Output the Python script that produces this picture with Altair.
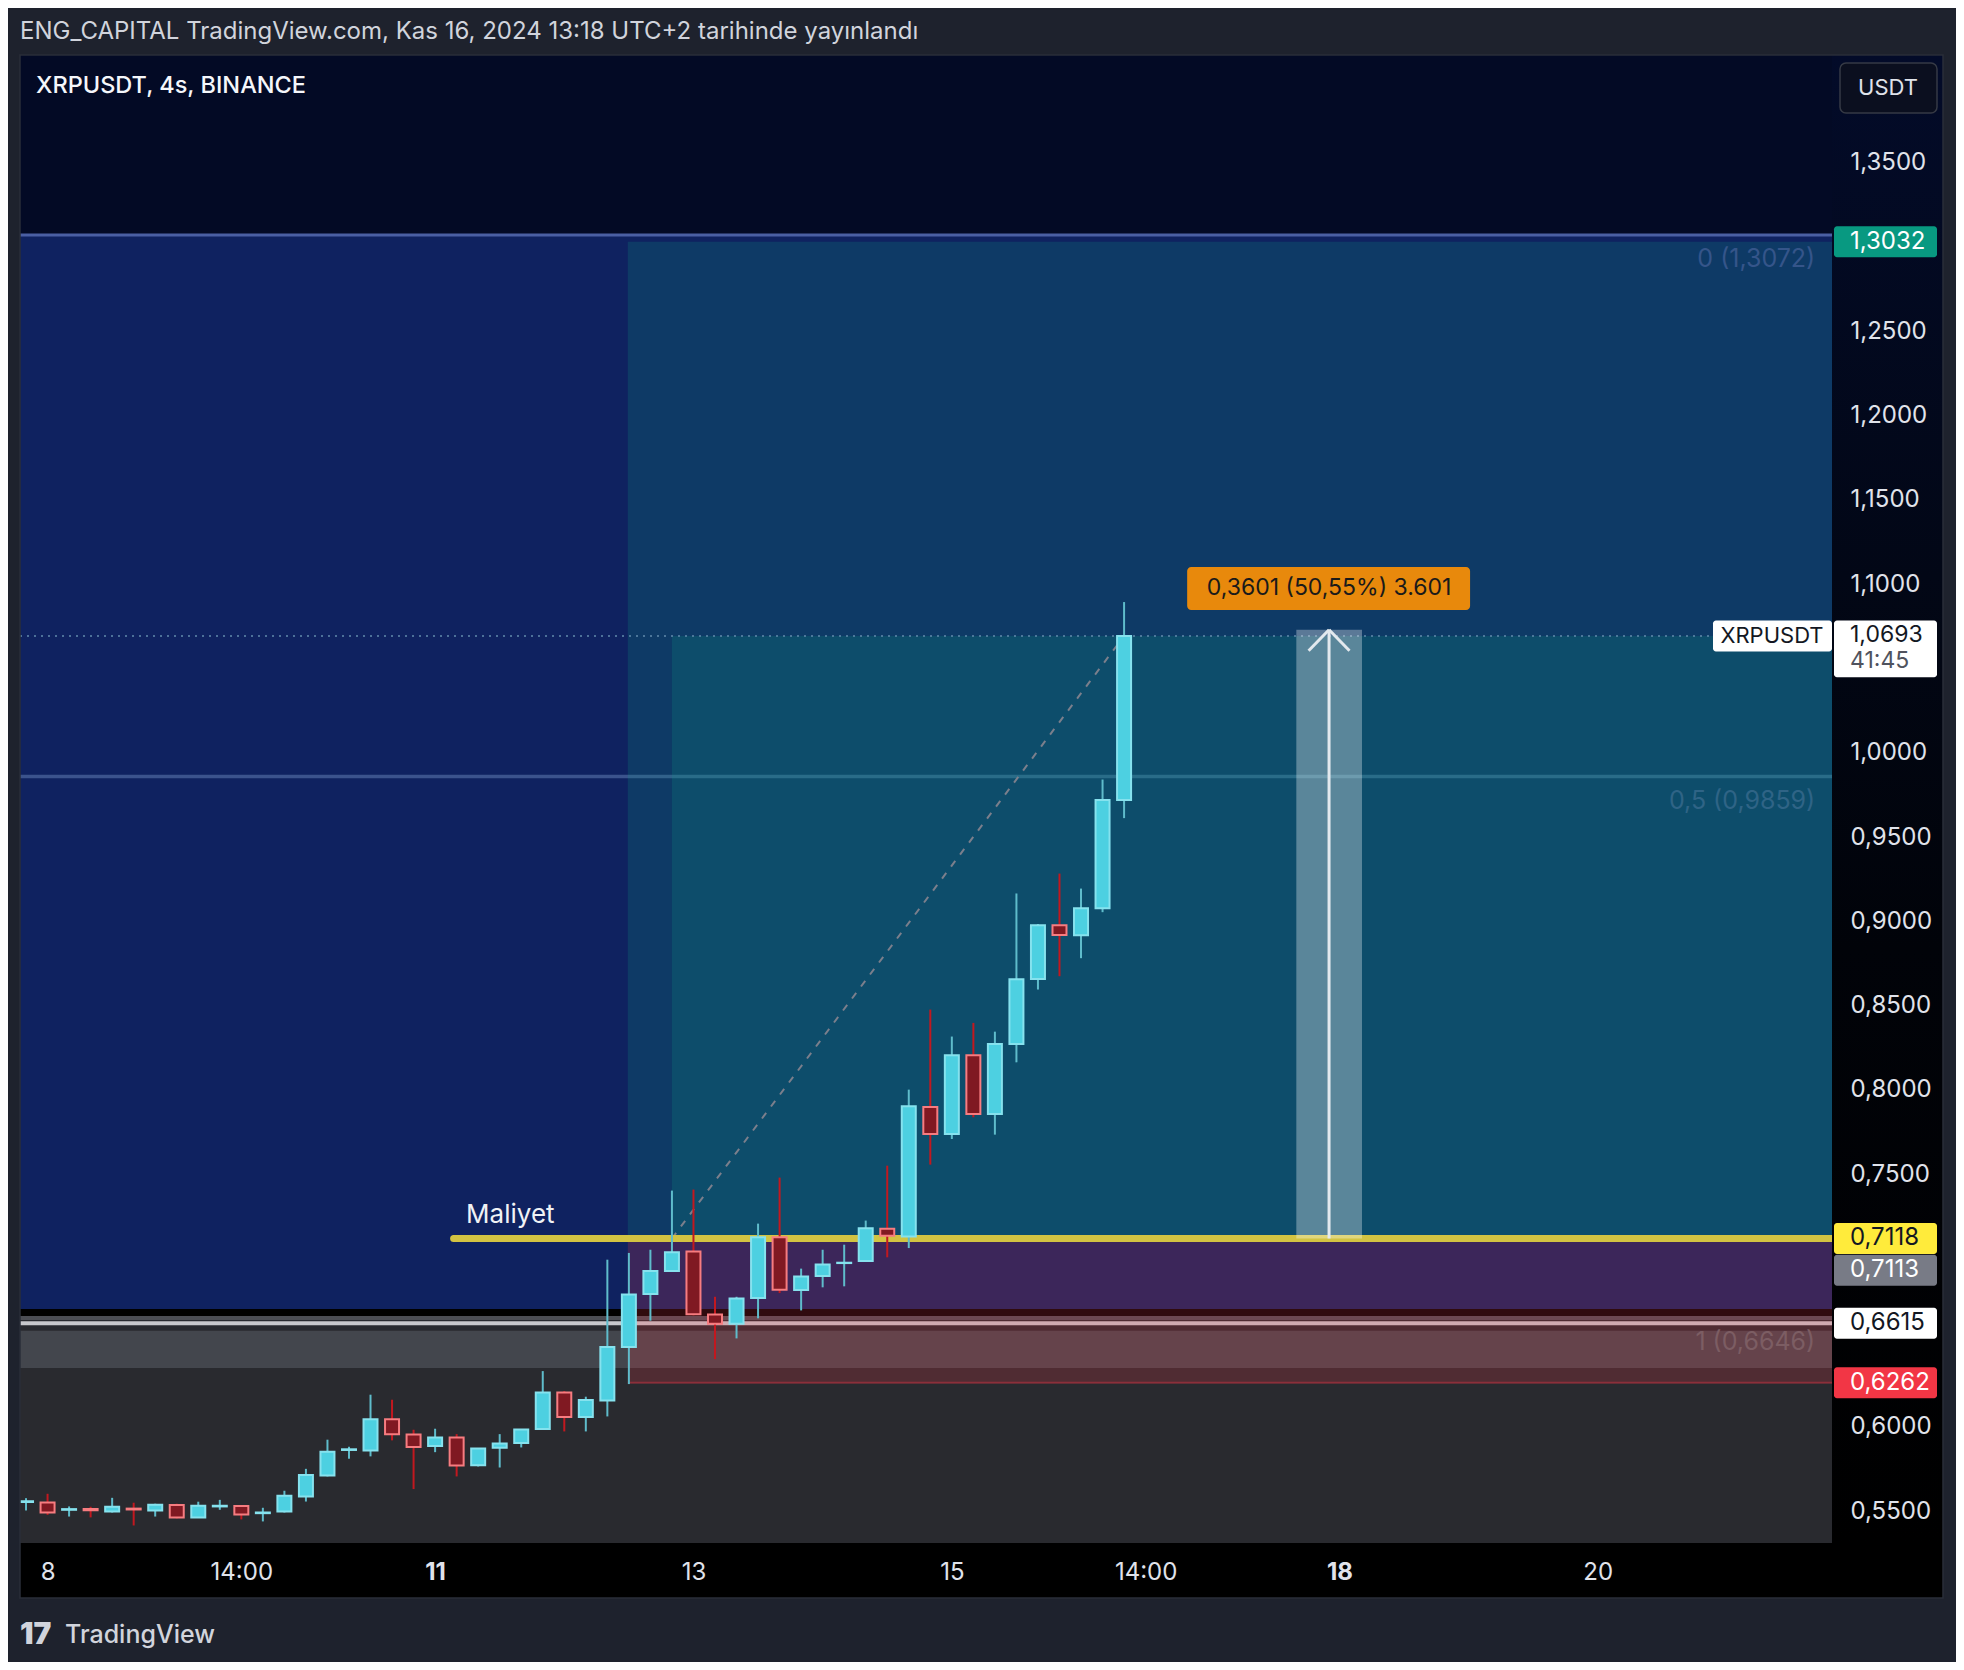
import altair as alt
import pandas as pd

# ---------------- data ----------------
bar_index = list(range(52))
opens = [0.5555, 0.5552, 0.5508, 0.5512, 0.5498, 0.5515, 0.5504, 0.5536, 0.5463, 0.5528,
         0.5530, 0.5488, 0.5498, 0.5587, 0.5712, 0.5863, 0.5860, 0.6046, 0.5955, 0.5886,
         0.5937, 0.5773, 0.5876, 0.5904, 0.5987, 0.6204, 0.6058, 0.6157, 0.6474, 0.6788,
         0.6925, 0.7041, 0.6667, 0.6612, 0.6764, 0.7125, 0.6812, 0.6895, 0.6972, 0.6984,
         0.7176, 0.7130, 0.7898, 0.7738, 0.8205, 0.7857, 0.8272, 0.8658, 0.8977, 0.8917,
         0.9078, 0.9719]
highs = [0.5577, 0.5603, 0.5528, 0.5526, 0.5579, 0.5550, 0.5544, 0.5544, 0.5556, 0.5567,
         0.5530, 0.5520, 0.5621, 0.5751, 0.5924, 0.5882, 0.6191, 0.6161, 0.5983, 0.5989,
         0.5957, 0.5873, 0.5957, 0.5985, 0.6331, 0.6212, 0.6179, 0.6992, 0.7032, 0.7051,
         0.7402, 0.7408, 0.6772, 0.6772, 0.7206, 0.7479, 0.6939, 0.7051, 0.7081, 0.7224,
         0.7550, 0.8001, 0.8476, 0.8316, 0.8397, 0.8345, 0.9165, 0.8984, 0.9283, 0.9194,
         0.9841, 1.0894]
lows = [0.5504, 0.5478, 0.5468, 0.5463, 0.5492, 0.5415, 0.5468, 0.5457, 0.5460, 0.5508,
        0.5451, 0.5439, 0.5492, 0.5557, 0.5706, 0.5811, 0.5825, 0.5920, 0.5631, 0.5850,
        0.5706, 0.5765, 0.5759, 0.5878, 0.5987, 0.5973, 0.5973, 0.6062, 0.6254, 0.6630,
        0.6925, 0.6662, 0.6402, 0.6525, 0.6644, 0.6794, 0.6691, 0.6828, 0.6834, 0.6984,
        0.7006, 0.7061, 0.7556, 0.7708, 0.7837, 0.7734, 0.8163, 0.8595, 0.8674, 0.8781,
        0.9054, 0.9612]
closes = [0.5559, 0.5492, 0.5512, 0.5506, 0.5526, 0.5510, 0.5538, 0.5463, 0.5532, 0.5532,
          0.5480, 0.5492, 0.5591, 0.5714, 0.5852, 0.5867, 0.6046, 0.5957, 0.5880, 0.5937,
          0.5771, 0.5872, 0.5902, 0.5985, 0.6204, 0.6058, 0.6159, 0.6474, 0.6786, 0.6925,
          0.7036, 0.6669, 0.6612, 0.6762, 0.7125, 0.6814, 0.6893, 0.6964, 0.6974, 0.7178,
          0.7134, 0.7902, 0.7738, 0.8205, 0.7857, 0.8272, 0.8656, 0.8977, 0.8919, 0.9078,
          0.9719, 1.0693]

x_tick_idx = [1, 10, 19, 31, 43, 52, 61, 73]
x_tick_labels = ["8", "14:00", "11", "13", "15", "14:00", "18", "20"]
x_bold_idx = [19, 61]
y_ticks = [0.55, 0.60, 0.75, 0.80, 0.85, 0.90, 0.95, 1.00, 1.10, 1.15, 1.20, 1.25, 1.35]

entry_price = 0.7118
target_price = 1.3032
stop_price = 0.6262
last_price = 1.0693
pos_start = 27.95
fill_start = 30
cost_start = 19.86
fib_prices = [1.3072, 0.9859, 0.6646]
fib_texts = ["0 (1,3072)", "0,5 (0,9859)", "1 (0,6646)"]
fib_text_colors = ["#35558a", "#2f6486", "#7c5d63"]
white_line_price = 0.6615

header_text = "ENG_CAPITAL TradingView.com, Kas 16, 2024 13:18 UTC+2 tarihinde yayınlandı"
symbol_text = "XRPUSDT, 4s, BINANCE"
measure_text = "0,3601 (50,55%) 3.601"

# ---------------- geometry ----------------
W, H = 1812, 1488
X_DOM = [-0.28, 83.88]
Y_DOM = [0.5311, 1.4140]
FONT = "Inter"
AX_COL = "#e0e3eb"

xs = alt.Scale(domain=X_DOM, nice=False, zero=False, padding=0)
ys = alt.Scale(domain=Y_DOM, nice=False, zero=False, padding=0)

lbl = "''"
for v, t in reversed(list(zip(x_tick_idx, x_tick_labels))):
    lbl = f"datum.value == {v} ? '{t}' : ({lbl})"
bold_test = " || ".join(f"datum.value == {v}" for v in x_bold_idx)

x_axis = alt.Axis(values=x_tick_idx, labelExpr=lbl, title=None, grid=False, ticks=False,
                  tickSize=0, domain=False, labelPadding=29, labelBaseline="middle",
                  labelFontSize=24, labelColor=AX_COL, labelFont=FONT,
                  labelFontWeight={"condition": {"test": bold_test, "value": 700}, "value": 400},
                  labelOverlap=False, labelFlush=False, zindex=1)
y_axis = alt.Axis(orient="right", values=y_ticks,
                  labelExpr="replace(format(datum.value, '.4f'), '.', ',')",
                  title=None, grid=False, ticks=False, tickSize=0, domain=False,
                  labelPadding=18, labelAlign="left", labelBaseline="middle",
                  labelFontSize=24, labelColor=AX_COL, labelFont=FONT,
                  labelOverlap=False, labelFlush=False, zindex=1)


def X(f):
    return alt.X(f, type="quantitative", scale=xs, axis=x_axis)


def Y(f):
    return alt.Y(f, type="quantitative", scale=ys, axis=y_axis)


one = pd.DataFrame({"k": [0]})
layers = []

# background bands (full width)
bands = pd.DataFrame({
    "x0": X_DOM[0], "x1": X_DOM[1],
    "y0": [fib_prices[0], 0.6700, Y_DOM[0], 0.6350],
    "y1": [Y_DOM[1], fib_prices[0], 0.6658, 0.6570],
    "fill": ["#030a25", "#0f2260", "#292a2f", "#43464d"],
})
layers.append(alt.Chart(bands).mark_rect(clip=True).encode(
    x=X("x0"), x2="x1", y=Y("y0"), y2="y1", fill=alt.Fill("fill:N", scale=None)))

# horizontal level lines
hlines = pd.DataFrame({
    "x0": X_DOM[0], "x1": X_DOM[1],
    "y": [fib_prices[0], fib_prices[1], fib_prices[2], white_line_price],
    "col": ["#4a5fa3", "#8fb0e0", "#4b4d54", "#c8c8cc"],
    "w": [3, 3.5, 4, 4],
    "op": [1, 0.35, 1, 1],
})
layers.append(alt.Chart(hlines).mark_rule(clip=True).encode(
    x=X("x0"), x2="x1", y=Y("y"), color=alt.Color("col:N", scale=None),
    strokeWidth=alt.StrokeWidth("w:Q", scale=None), opacity=alt.Opacity("op:Q", scale=None)))

# long position zones
zones = pd.DataFrame({
    "x0": [pos_start, fill_start, pos_start],
    "x1": X_DOM[1],
    "y0": [entry_price, entry_price, stop_price],
    "y1": [target_price, last_price, entry_price],
    "fill": ["#089981", "#089981", "#f23645"],
})
layers.append(alt.Chart(zones).mark_rect(clip=True, opacity=0.2).encode(
    x=X("x0"), x2="x1", y=Y("y0"), y2="y1", fill=alt.Fill("fill:N", scale=None)))
layers.append(alt.Chart(pd.DataFrame({"x0": [pos_start], "x1": [X_DOM[1]], "y": [stop_price]}))
              .mark_rule(clip=True, color="#f23645", opacity=0.4, strokeWidth=2)
              .encode(x=X("x0"), x2="x1", y=Y("y")))

# current price dotted line
layers.append(alt.Chart(pd.DataFrame({"x0": [X_DOM[0]], "x1": [X_DOM[1]], "y": [last_price]}))
              .mark_rule(clip=True, color="#5d86a8", opacity=0.8, strokeWidth=2, strokeDash=[2, 5])
              .encode(x=X("x0"), x2="x1", y=Y("y")))

# dashed connector entry -> current
layers.append(alt.Chart(pd.DataFrame({"x": [fill_start, 51], "y": [entry_price, last_price]}))
              .mark_line(clip=True, color="#7b7f8c", strokeWidth=2, strokeDash=[7, 8])
              .encode(x=X("x"), y=Y("y")))

# cost (Maliyet) line
layers.append(alt.Chart(pd.DataFrame({"x0": [cost_start], "x1": [X_DOM[1]], "y": [entry_price]}))
              .mark_rule(clip=True, color="#d2c342", strokeWidth=7, strokeCap="round")
              .encode(x=X("x0"), x2="x1", y=Y("y")))
layers.append(alt.Chart(pd.DataFrame({"x": [20.44], "y": [entry_price], "t": ["Maliyet"]}))
              .mark_text(align="left", baseline="middle", dy=-23, fontSize=26, font=FONT,
                         color="#f0f2f5")
              .encode(x=X("x"), y=Y("y"), text="t:N"))

# measuring arrow
arrow_x0, arrow_x1, arrow_xc = 59.0, 62.05, 60.52
arrow_top = 1.0730
layers.append(alt.Chart(pd.DataFrame({"x0": [arrow_x0], "x1": [arrow_x1], "y0": [entry_price], "y1": [arrow_top]}))
              .mark_rect(color="#ffffff", opacity=0.32)
              .encode(x=X("x0"), x2="x1", y=Y("y0"), y2="y1"))
layers.append(alt.Chart(pd.DataFrame({"x": [arrow_xc], "y0": [entry_price], "y1": [arrow_top]}))
              .mark_rule(color="#e3e9ee", strokeWidth=3)
              .encode(x=X("x"), y=Y("y0"), y2="y1"))
chev = pd.DataFrame({"x": [59.57, arrow_xc, 61.47, arrow_xc],
                     "y": [1.0605, arrow_top, 1.0605, arrow_top],
                     "seg": [0, 0, 1, 1]})
layers.append(alt.Chart(chev).mark_line(color="#e3e9ee", strokeWidth=3)
              .encode(x=X("x"), y=Y("y"), detail="seg:N"))

# candles
cdf = pd.DataFrame({"i": bar_index, "o": opens, "h": highs, "l": lows, "c": closes})
cdf["up"] = cdf["c"] >= cdf["o"]
cdf["b0"] = cdf[["o", "c"]].min(axis=1)
cdf["b1"] = cdf[["o", "c"]].max(axis=1)
cdf["fill"] = cdf["up"].map({True: "#4dd0e1", False: "#801922"})
cdf["edge"] = cdf["up"].map({True: "#86e2ee", False: "#f77c80"})
cdf["wick"] = cdf["up"].map({True: "#5fbccb", False: "#c2181f"})
layers.append(alt.Chart(cdf).mark_rule(clip=True, strokeWidth=2).encode(
    x=X("i"), y=Y("l"), y2="h", color=alt.Color("wick:N", scale=None)))
layers.append(alt.Chart(cdf).mark_bar(clip=True, size=14, strokeWidth=2).encode(
    x=X("i"), y=Y("b0"), y2="b1", fill=alt.Fill("fill:N", scale=None),
    stroke=alt.Stroke("edge:N", scale=None)))

# fib labels
fdf = pd.DataFrame({"x": 83.1, "y": fib_prices, "t": fib_texts, "col": fib_text_colors})
layers.append(alt.Chart(fdf).mark_text(align="right", baseline="middle", dy=24, fontSize=25, font=FONT)
              .encode(x=X("x"), y=Y("y"), text="t:N", color=alt.Color("col:N", scale=None)))

# orange measure label
layers.append(alt.Chart(pd.DataFrame({"x0": [53.93], "x1": [67.07], "y0": [1.0847], "y1": [1.1102]}))
              .mark_rect(color="#e8890c", cornerRadius=4)
              .encode(x=X("x0"), x2="x1", y=Y("y0"), y2="y1"))
layers.append(alt.Chart(pd.DataFrame({"x": [arrow_xc], "y": [1.0975], "t": [measure_text]}))
              .mark_text(align="center", baseline="middle", fontSize=23, font=FONT, color="#1a1a1a")
              .encode(x=X("x"), y=Y("y"), text="t:N"))

# symbol label at the right edge of the plot
layers.append(alt.Chart(pd.DataFrame({"y0": [1.0600], "y1": [1.0784]}))
              .mark_rect(color="#ffffff", cornerRadius=3)
              .encode(x=alt.value(1693), x2=alt.value(1812), y=Y("y0"), y2="y1"))
layers.append(alt.Chart(pd.DataFrame({"y": [1.0692], "t": ["XRPUSDT"]}))
              .mark_text(align="center", baseline="middle", fontSize=22, font=FONT, color="#131722")
              .encode(x=alt.value(1752), y=Y("y"), text="t:N"))

# header inside pane
layers.append(alt.Chart(pd.DataFrame({"t": [symbol_text]}))
              .mark_text(align="left", baseline="middle", fontSize=23.5, font=FONT,
                         fontWeight=500, color="#f5f7fb")
              .encode(x=alt.value(16), y=alt.value(31), text="t:N"))

# price-axis background gradient
grad = alt.Gradient(gradient="linear", x1=0, x2=0, y1=0, y2=1,
                    stops=[alt.GradientStop(color="#030b29", offset=0),
                           alt.GradientStop(color="#020716", offset=0.35),
                           alt.GradientStop(color="#010309", offset=0.6),
                           alt.GradientStop(color="#000000", offset=1)])
layers.append(alt.Chart(one).mark_rect(color=grad).encode(
    x=alt.value(W), x2=alt.value(1923), y=alt.value(0), y2=alt.value(H)))

# price-axis coloured labels
box_half = 0.0092
bdf = pd.DataFrame({
    "p": [target_price, entry_price, 0.6929, white_line_price, stop_price],
    "fill": ["#089981", "#ffeb3b", "#787b86", "#ffffff", "#f23645"],
    "t": ["1,3032", "0,7118", "0,7113", "0,6615", "0,6262"],
    "tc": ["#ffffff", "#131722", "#ffffff", "#131722", "#ffffff"],
})
bdf["b0"] = bdf["p"] - box_half
bdf["b1"] = bdf["p"] + box_half
layers.append(alt.Chart(bdf).mark_rect(cornerRadius=3).encode(
    x=alt.value(1814), x2=alt.value(1917), y=Y("b0"), y2="b1", fill=alt.Fill("fill:N", scale=None)))
layers.append(alt.Chart(bdf).mark_text(align="left", baseline="middle", fontSize=24, font=FONT).encode(
    x=alt.value(1830), y=Y("p"), text="t:N", color=alt.Color("tc:N", scale=None)))

# current price box (price + countdown)
layers.append(alt.Chart(pd.DataFrame({"y0": [1.0448], "y1": [1.0784]}))
              .mark_rect(color="#ffffff", cornerRadius=3)
              .encode(x=alt.value(1814), x2=alt.value(1917), y=Y("y0"), y2="y1"))
cur = pd.DataFrame({"y": [1.0699, 1.0545], "t": ["1,0693", "41:45"], "tc": ["#131722", "#50535e"]})
layers.append(alt.Chart(cur).mark_text(align="left", baseline="middle", fontSize=23, font=FONT).encode(
    x=alt.value(1830), y=Y("y"), text="t:N", color=alt.Color("tc:N", scale=None)))

# USDT button
layers.append(alt.Chart(one).mark_rect(fill="#0b0f1f", stroke="#363a45", strokeWidth=1.5, cornerRadius=6)
              .encode(x=alt.value(1820), x2=alt.value(1917), y=alt.value(8), y2=alt.value(58)))
layers.append(alt.Chart(pd.DataFrame({"t": ["USDT"]}))
              .mark_text(align="center", baseline="middle", fontSize=22, font=FONT, color=AX_COL)
              .encode(x=alt.value(1868), y=alt.value(33), text="t:N"))

# page frame around the chart pane
frame = pd.DataFrame({
    "x0": [-12, -12, 1923, 0], "x1": [1936, 0, 1936, 1923],
    "y0": [-47, 0, 0, 1543], "y1": [0, 1607, 1607, 1607],
})
for _, r in frame.iterrows():
    layers.append(alt.Chart(one).mark_rect(color="#1e222d").encode(
        x=alt.value(float(r.x0)), x2=alt.value(float(r.x1)),
        y=alt.value(float(r.y0)), y2=alt.value(float(r.y1))))
layers.append(alt.Chart(one).mark_rect(fill=None, stroke="#2a2e39", strokeWidth=1.5).encode(
    x=alt.value(0), x2=alt.value(1923), y=alt.value(0), y2=alt.value(1543)))

layers.append(alt.Chart(pd.DataFrame({"t": [header_text]}))
              .mark_text(align="left", baseline="middle", fontSize=24, font=FONT, color="#d1d4dc")
              .encode(x=alt.value(0), y=alt.value(-23), text="t:N"))
layers.append(alt.Chart(pd.DataFrame({"t": ["17"]}))
              .mark_text(align="left", baseline="middle", fontSize=30, font=FONT, fontWeight=900,
                         color="#d1d4dc")
              .encode(x=alt.value(0), y=alt.value(1580), text="t:N"))
layers.append(alt.Chart(pd.DataFrame({"t": ["TradingView"]}))
              .mark_text(align="left", baseline="middle", fontSize=25, font=FONT, fontWeight=500,
                         color="#d1d4dc")
              .encode(x=alt.value(45), y=alt.value(1580), text="t:N"))

chart = alt.layer(*layers).properties(
    width=W, height=H,
    autosize=alt.AutoSizeParams(type="none"),
    padding={"left": 12, "top": 47, "right": 124, "bottom": 119},
    background="#000000",
).configure_view(strokeWidth=0, fill="#000000")

chart.save("out.html", embed_options={"renderer": "svg", "actions": False})
